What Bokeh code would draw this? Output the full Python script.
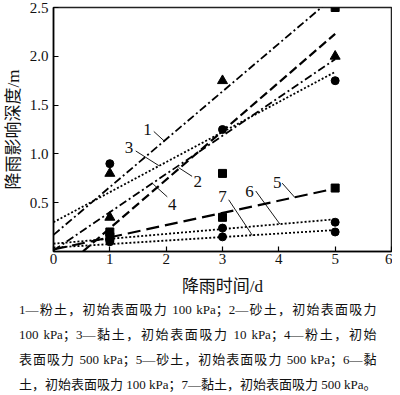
from bokeh.plotting import figure
from bokeh.models import Div, Range1d, FixedTicker, NumeralTickFormatter
from bokeh.layouts import column
from bokeh.embed import file_html
from bokeh.resources import INLINE
from bokeh.core.properties import value

# ---- data ----
x_ticks = [0, 1, 2, 3, 4, 5, 6]
y_ticks = [0.5, 1.0, 1.5, 2.0, 2.5]

# measured points (squares: 砂土, triangles: 粉土, circles: 黏土)
sq_x = [1, 1, 3, 3, 5, 5]
sq_y = [0.20, 0.15, 0.80, 0.35, 2.50, 0.65]
tri_x = [1, 1, 3, 5]
tri_y = [0.80, 0.35, 1.75, 2.00]
cir_x = [1, 1, 1, 3, 3, 3, 5, 5, 5]
cir_y = [0.90, 0.12, 0.10, 1.25, 0.24, 0.15, 1.75, 0.30, 0.20]

# straight trend lines 1-7: values at x = 0 and x = 5
line_x = [0, 5]
line1_y = [0.17, 2.62]
line2_y = [-0.26, 2.23]
line3_y = [0.30, 1.84]
line4_y = [0.01, 1.97]
line5_y = [0.02, 0.645]
line6_y = [0.08, 0.33]
line7_y = [0.04, 0.22]

# curve labels and leader lines
lbl_text = ["1", "2", "3", "4", "5", "6", "7"]
lbl_x = [1.67, 2.56, 1.34, 2.11, 3.97, 3.48, 3.00]
lbl_y = [1.25, 0.72, 1.07, 0.48, 0.71, 0.61, 0.56]
lead_x0 = [1.78, 2.46, 1.46, 2.02, 4.06, 3.59, 3.11]
lead_y0 = [1.23, 0.77, 1.03, 0.56, 0.70, 0.62, 0.53]
lead_x1 = [1.97, 2.22, 1.87, 1.77, 4.29, 4.02, 3.53]
lead_y1 = [1.13, 0.86, 0.88, 0.69, 0.55, 0.28, 0.165]

x_title = "降雨时间/d"
y_title = "降雨影响深度/m"
caption_lines = [
    "1—粉土，初始表面吸力 100 kPa；2—砂土，初始表面吸力",
    "100 kPa；3—黏土，初始表面吸力 10 kPa；4—粉土，初始",
    "表面吸力 500 kPa；5—砂土，初始表面吸力 500 kPa；6—黏",
    "土，初始表面吸力 100 kPa；7—黏土，初始表面吸力 500 kPa。",
]

SERIF = "Liberation Serif"
CJK = "Liberation Serif, Noto Sans CJK SC"

P_W = 392
P_H = 298
p = figure(width=P_W, height=P_H, x_range=Range1d(0, 6), y_range=Range1d(0, 2.5),
           output_backend="svg", toolbar_location=None,
           min_border_left=0, min_border_right=1, min_border_top=7, min_border_bottom=0)
p.grid.visible = False
p.outline_line_color = "#222222"
p.outline_line_width = 1.5

for ax in (p.xaxis[0], p.yaxis[0]):
    ax.major_tick_in = 5
    ax.major_tick_out = 0
    ax.minor_tick_line_color = None
    ax.axis_line_width = 1.5
    ax.major_tick_line_width = 1.2
    ax.major_label_text_font = SERIF
    ax.major_label_text_font_size = "15px"
    ax.major_label_text_color = "#111111"
    ax.axis_label_text_font = CJK
    ax.axis_label_text_font_size = "17px"
    ax.axis_label_text_font_style = "normal"
    ax.axis_label_text_color = "#111111"

p.xaxis.ticker = FixedTicker(ticks=x_ticks)
p.yaxis.ticker = FixedTicker(ticks=y_ticks)
p.yaxis.formatter = NumeralTickFormatter(format="0.0")
p.xaxis.axis_label = x_title
p.yaxis.axis_label = y_title
p.xaxis.major_label_standoff = 2
p.xaxis.axis_label_standoff = 10
p.yaxis.major_label_standoff = 5
p.yaxis.axis_label_standoff = 4

dashdot = "8 3 2 3"
p.line(line_x, line1_y, line_color="black", line_width=1.8, line_dash=dashdot)
p.line(line_x, line2_y, line_color="black", line_width=2.2, line_dash="9 4")
p.line(line_x, line3_y, line_color="black", line_width=1.8, line_dash="2 2")
p.line(line_x, line4_y, line_color="black", line_width=1.8, line_dash=dashdot)
p.line(line_x, line5_y, line_color="black", line_width=2.2, line_dash="13 6")
p.line(line_x, line6_y, line_color="black", line_width=1.8, line_dash="2 2")
p.line(line_x, line7_y, line_color="black", line_width=1.8, line_dash="2 2")

p.scatter(sq_x, sq_y, marker="square", size=8, color="black")
p.scatter(tri_x, tri_y, marker="triangle", size=10, color="black")
p.scatter(cir_x, cir_y, marker="circle", size=8, color="black")

p.segment(lead_x0, lead_y0, lead_x1, lead_y1, line_color="black", line_width=0.9)
p.text(lbl_x, lbl_y, text=lbl_text, text_font=value(SERIF), text_font_size="17px",
       text_align="center", text_baseline="middle", text_color="#111111")

html = '<div style="padding:0 0 0 14px;margin-top:-6px;margin-right:-6px;">' + "".join(
    f'<div style="text-align:justify;text-align-last:justify;">{t}</div>' for t in caption_lines
) + "</div>"
cap = Div(text=html, width=P_W, height=379 - P_H,
          styles={"font-family": "'Liberation Serif','Noto Sans CJK SC',serif",
                  "font-size": "13px", "line-height": "25px", "color": "#111111"})

layout = column(p, cap, spacing=0)
open("out.html", "w").write(file_html(layout, INLINE))
